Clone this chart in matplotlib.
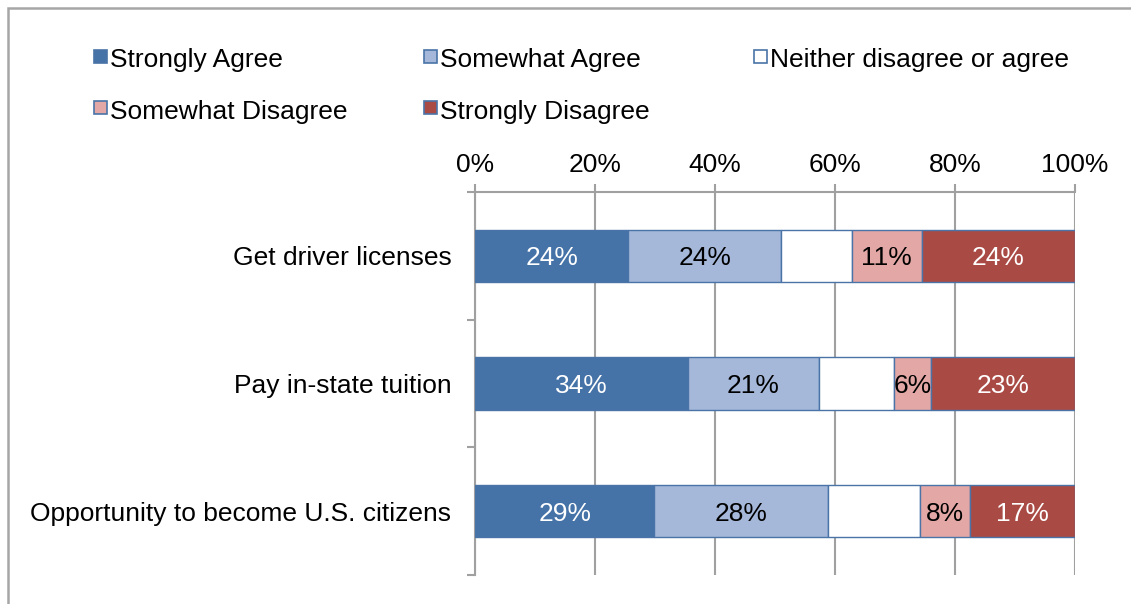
"""
Opinions on policies for undocumented immigrants - 100% stacked bars.
"""
import matplotlib.pyplot as plt
import numpy as np
from matplotlib.patches import Rectangle

plt.rcParams["font.family"] = ["Liberation Sans", "DejaVu Sans"]

categories = ["Get driver licenses", "Pay in-state tuition",
              "Opportunity to become U.S. citizens"]
series = ["Strongly Agree", "Somewhat Agree", "Neither disagree or agree",
          "Somewhat Disagree", "Strongly Disagree"]
strongly_agree = [24, 34, 29]
somewhat_agree = [24, 21, 28]
neither = [11, 12, 15]
somewhat_disagree = [11, 6, 8]
strongly_disagree = [24, 23, 17]
x_ticks = [0, 20, 40, 60, 80, 100]

colors = ["#4572A7", "#A5B8D9", "#FFFFFF", "#E3A8A6", "#AA4A45"]
label_colors = ["white", "black", None, "black", "white"]
edge = "#4A74A8"
FS = 19

W, H = 1131, 604
fig = plt.figure(figsize=(W / 100, H / 100), dpi=100)
fig.patch.set_facecolor("white")

# chart frame (only top and left edges show)
fig.add_artist(Rectangle((7.5 / W, -0.1), 1.2, 1.1 - 7.5 / H, transform=fig.transFigure,
                         facecolor="none", edgecolor="#A6A6A6", linewidth=1.8))

ax = fig.add_axes([475 / W, 1 - 575 / H, 600 / W, 383 / H])

raw = np.array([strongly_agree, somewhat_agree, neither,
                somewhat_disagree, strongly_disagree], dtype=float)
pct = raw / raw.sum(axis=0) * 100
y = np.arange(len(categories))

left = np.zeros(len(categories))
for i, name in enumerate(series):
    ax.barh(y, pct[i], left=left, height=0.41, color=colors[i],
            edgecolor=edge, linewidth=1.0, zorder=3)
    if label_colors[i]:
        for j in range(len(categories)):
            ax.text(left[j] + pct[i][j] / 2, y[j], f"{raw[i][j]:.0f}%",
                    ha="center", va="center_baseline", fontsize=FS,
                    color=label_colors[i], zorder=4)
    left += pct[i]

ax.set_xlim(0, 100)
ax.set_ylim(len(categories) - 0.5, -0.5)
ax.xaxis.tick_top()
ax.set_xticks(x_ticks)
ax.set_xticklabels([f"{t}%" for t in x_ticks], fontsize=FS)
ax.tick_params(axis="x", direction="out", length=6, width=1.5, color="#A0A0A0",
               pad=5)
ax.grid(axis="x", color="#A0A0A0", linewidth=1.5, zorder=0)

ax.set_yticks(y)
ax.set_yticklabels(categories, fontsize=FS, va="center_baseline")
ax.set_yticks(np.arange(len(categories) + 1) - 0.5, minor=True)
ax.tick_params(axis="y", which="major", length=0, pad=17)
ax.tick_params(axis="y", which="minor", direction="out", length=6, width=1.5,
               color="#A0A0A0")

for s in ["right", "bottom"]:
    ax.spines[s].set_visible(False)
for s in ["top", "left"]:
    ax.spines[s].set_color("#A0A0A0")
    ax.spines[s].set_linewidth(1.5)

# legend, laid out like the original (3 entries then 2)
leg_pos = [(110, 58), (440, 58), (770, 58), (110, 109), (440, 109)]
for (tx, ty), name, c in zip(leg_pos, series, colors):
    fig.add_artist(Rectangle(((tx - 16) / W, 1 - (ty + 5) / H), 13 / W, 13 / H,
                             transform=fig.transFigure, facecolor=c,
                             edgecolor=edge, linewidth=1.2))
    fig.text(tx / W, 1 - ty / H, name, ha="left", va="center_baseline", fontsize=FS)

plt.savefig("out.png", dpi=100, facecolor="white")
plt.close()
